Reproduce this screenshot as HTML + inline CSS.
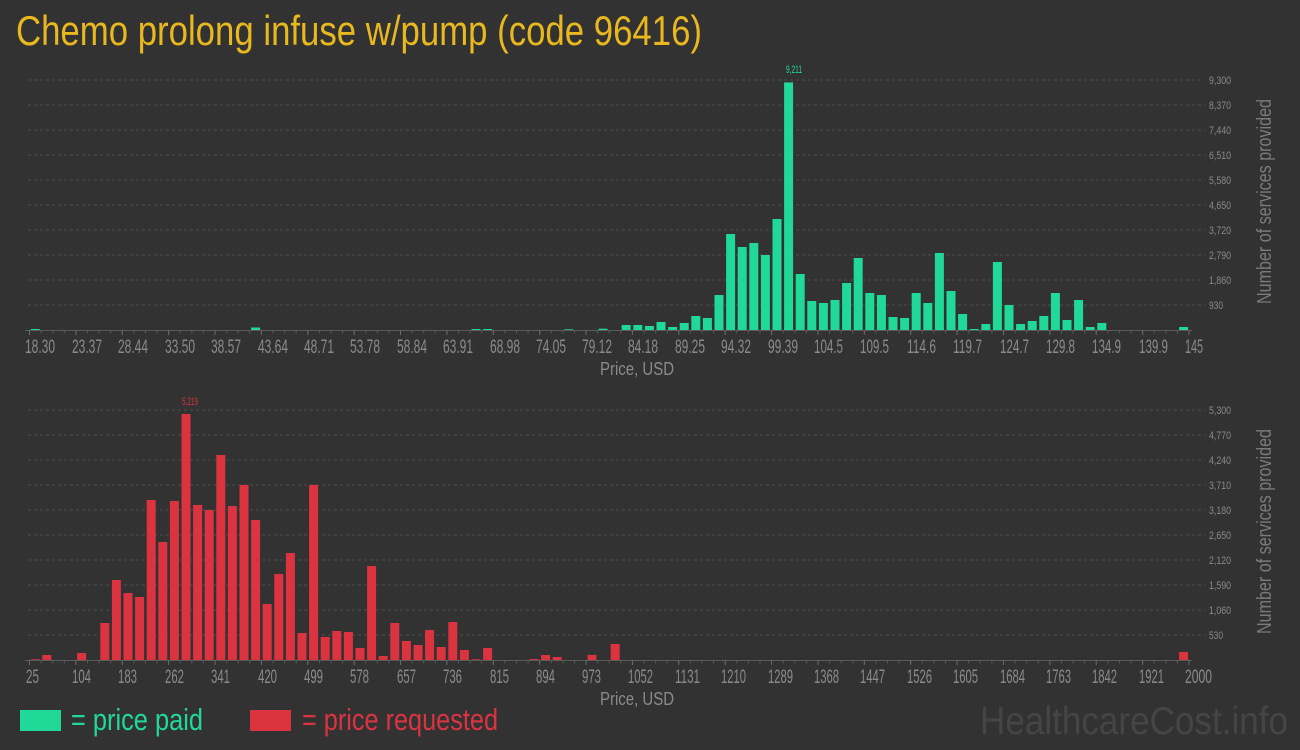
<!DOCTYPE html>
<html><head><meta charset="utf-8"><style>
html,body{margin:0;padding:0;background:#323232;}
svg{display:block;font-family:"Liberation Sans",sans-serif;}
.tl{fill:#8a8a8a;font-size:19px;}
.yl{fill:#8a8a8a;font-size:11px;}
.g{stroke:#4e4e4e;stroke-width:1;stroke-dasharray:3,3;}
.gr{fill:#20d898;}
.rd{fill:#dc3340;}
</style></head><body>
<svg width="1300" height="750" viewBox="0 0 1300 750">
<rect width="1300" height="750" fill="#323232"/>
<text x="16" y="45" font-size="42" fill="#e8b81e" textLength="686" lengthAdjust="spacingAndGlyphs">Chemo prolong infuse w/pump (code 96416)</text>

<!-- TOP CHART -->
<g class="g">
<line x1="28" y1="80" x2="1205" y2="80"/><line x1="28" y1="105" x2="1205" y2="105"/><line x1="28" y1="130" x2="1205" y2="130"/><line x1="28" y1="155" x2="1205" y2="155"/><line x1="28" y1="180" x2="1205" y2="180"/><line x1="28" y1="205" x2="1205" y2="205"/><line x1="28" y1="230" x2="1205" y2="230"/><line x1="28" y1="255" x2="1205" y2="255"/><line x1="28" y1="280" x2="1205" y2="280"/><line x1="28" y1="305" x2="1205" y2="305"/>
</g>
<g class="yl">
<text x="1209" y="84" textLength="22" lengthAdjust="spacingAndGlyphs">9,300</text>
<text x="1209" y="109" textLength="22" lengthAdjust="spacingAndGlyphs">8,370</text>
<text x="1209" y="134" textLength="22" lengthAdjust="spacingAndGlyphs">7,440</text>
<text x="1209" y="159" textLength="22" lengthAdjust="spacingAndGlyphs">6,510</text>
<text x="1209" y="184" textLength="22" lengthAdjust="spacingAndGlyphs">5,580</text>
<text x="1209" y="209" textLength="22" lengthAdjust="spacingAndGlyphs">4,650</text>
<text x="1209" y="234" textLength="22" lengthAdjust="spacingAndGlyphs">3,720</text>
<text x="1209" y="259" textLength="22" lengthAdjust="spacingAndGlyphs">2,790</text>
<text x="1209" y="284" textLength="22" lengthAdjust="spacingAndGlyphs">1,860</text>
<text x="1209" y="309" textLength="14" lengthAdjust="spacingAndGlyphs">930</text>
</g>
<text transform="translate(1271,304) rotate(-90)" font-size="20" fill="#7a7a7a" textLength="205" lengthAdjust="spacingAndGlyphs">Number of services provided</text>

<g class="gr">
<rect x="30.7" y="329" width="9" height="1"/>
<rect x="251.1" y="327.5" width="9" height="2.5"/>
<rect x="471.5" y="329" width="9" height="1"/>
<rect x="483.1" y="329" width="9" height="1"/>
<rect x="564.3" y="329.3" width="9" height="0.7"/>
<rect x="598.5" y="328.7" width="9" height="1.3"/>
<rect x="621.7" y="325" width="9" height="5"/>
<rect x="633.3" y="325" width="9" height="5"/>
<rect x="644.9" y="326" width="9" height="4"/>
<rect x="656.5" y="322" width="9" height="8"/>
<rect x="668.1" y="327" width="9" height="3"/>
<rect x="679.7" y="323" width="9" height="7"/>
<rect x="691.3" y="316" width="9" height="14"/>
<rect x="702.9" y="318" width="9" height="12"/>
<rect x="714.5" y="295" width="9" height="35"/>
<rect x="726.1" y="234" width="9" height="96"/>
<rect x="737.7" y="247" width="9" height="83"/>
<rect x="749.3" y="243" width="9" height="87"/>
<rect x="760.9" y="255" width="9" height="75"/>
<rect x="772.5" y="219" width="9" height="111"/>
<rect x="784.1" y="82.4" width="9" height="247.6"/>
<rect x="795.7" y="274" width="9" height="56"/>
<rect x="807.3" y="301" width="9" height="29"/>
<rect x="818.9" y="303" width="9" height="27"/>
<rect x="830.5" y="300" width="9" height="30"/>
<rect x="842.1" y="283" width="9" height="47"/>
<rect x="853.7" y="258" width="9" height="72"/>
<rect x="865.3" y="293" width="9" height="37"/>
<rect x="876.9" y="295" width="9" height="35"/>
<rect x="888.5" y="317" width="9" height="13"/>
<rect x="900.1" y="318" width="9" height="12"/>
<rect x="911.7" y="293" width="9" height="37"/>
<rect x="923.3" y="303" width="9" height="27"/>
<rect x="934.9" y="253" width="9" height="77"/>
<rect x="946.5" y="291" width="9" height="39"/>
<rect x="958.1" y="314" width="9" height="16"/>
<rect x="969.7" y="329" width="9" height="1"/>
<rect x="981.3" y="324" width="9" height="6"/>
<rect x="992.9" y="262" width="9" height="68"/>
<rect x="1004.5" y="305" width="9" height="25"/>
<rect x="1016.1" y="324" width="9" height="6"/>
<rect x="1027.7" y="321" width="9" height="9"/>
<rect x="1039.3" y="316" width="9" height="14"/>
<rect x="1050.9" y="293" width="9" height="37"/>
<rect x="1062.5" y="320" width="9" height="10"/>
<rect x="1074.1" y="300" width="9" height="30"/>
<rect x="1085.7" y="327" width="9" height="3"/>
<rect x="1097.3" y="323" width="9" height="7"/>
<rect x="1179.1" y="327" width="9" height="3"/>
</g>
<text x="786" y="73" font-size="11" fill="#20d898" textLength="16" lengthAdjust="spacingAndGlyphs">9,211</text>

<line x1="25" y1="330.5" x2="1192" y2="330.5" stroke="#5a5a5a" stroke-width="1"/>
<line x1="29" y1="332" x2="1190" y2="332" stroke="#5a5a5a" stroke-width="3" stroke-dasharray="1,10.595"/>
<g stroke="#6a6a6a" stroke-width="1">
<line x1="29.5" y1="330" x2="29.5" y2="335"/><line x1="75.9" y1="330" x2="75.9" y2="335"/><line x1="122.3" y1="330" x2="122.3" y2="335"/><line x1="168.6" y1="330" x2="168.6" y2="335"/><line x1="215" y1="330" x2="215" y2="335"/><line x1="261.4" y1="330" x2="261.4" y2="335"/><line x1="307.8" y1="330" x2="307.8" y2="335"/><line x1="354.2" y1="330" x2="354.2" y2="335"/><line x1="400.5" y1="330" x2="400.5" y2="335"/><line x1="446.9" y1="330" x2="446.9" y2="335"/><line x1="493.3" y1="330" x2="493.3" y2="335"/><line x1="539.7" y1="330" x2="539.7" y2="335"/><line x1="586.1" y1="330" x2="586.1" y2="335"/><line x1="632.4" y1="330" x2="632.4" y2="335"/><line x1="678.8" y1="330" x2="678.8" y2="335"/><line x1="725.2" y1="330" x2="725.2" y2="335"/><line x1="771.6" y1="330" x2="771.6" y2="335"/><line x1="818" y1="330" x2="818" y2="335"/><line x1="864.3" y1="330" x2="864.3" y2="335"/><line x1="910.7" y1="330" x2="910.7" y2="335"/><line x1="957.1" y1="330" x2="957.1" y2="335"/><line x1="1003.5" y1="330" x2="1003.5" y2="335"/><line x1="1049.9" y1="330" x2="1049.9" y2="335"/><line x1="1096.2" y1="330" x2="1096.2" y2="335"/><line x1="1142.6" y1="330" x2="1142.6" y2="335"/><line x1="1189" y1="330" x2="1189" y2="335"/>
</g>
<g class="tl">
<text x="25" y="353" textLength="30" lengthAdjust="spacingAndGlyphs">18.30</text>
<text x="72" y="353" textLength="30" lengthAdjust="spacingAndGlyphs">23.37</text>
<text x="118" y="353" textLength="30" lengthAdjust="spacingAndGlyphs">28.44</text>
<text x="165" y="353" textLength="30" lengthAdjust="spacingAndGlyphs">33.50</text>
<text x="211" y="353" textLength="30" lengthAdjust="spacingAndGlyphs">38.57</text>
<text x="258" y="353" textLength="30" lengthAdjust="spacingAndGlyphs">43.64</text>
<text x="304" y="353" textLength="30" lengthAdjust="spacingAndGlyphs">48.71</text>
<text x="350" y="353" textLength="30" lengthAdjust="spacingAndGlyphs">53.78</text>
<text x="397" y="353" textLength="30" lengthAdjust="spacingAndGlyphs">58.84</text>
<text x="443" y="353" textLength="30" lengthAdjust="spacingAndGlyphs">63.91</text>
<text x="490" y="353" textLength="30" lengthAdjust="spacingAndGlyphs">68.98</text>
<text x="536" y="353" textLength="30" lengthAdjust="spacingAndGlyphs">74.05</text>
<text x="582" y="353" textLength="30" lengthAdjust="spacingAndGlyphs">79.12</text>
<text x="628" y="353" textLength="30" lengthAdjust="spacingAndGlyphs">84.18</text>
<text x="675" y="353" textLength="30" lengthAdjust="spacingAndGlyphs">89.25</text>
<text x="721" y="353" textLength="30" lengthAdjust="spacingAndGlyphs">94.32</text>
<text x="768" y="353" textLength="30" lengthAdjust="spacingAndGlyphs">99.39</text>
<text x="814" y="353" textLength="29" lengthAdjust="spacingAndGlyphs">104.5</text>
<text x="860" y="353" textLength="29" lengthAdjust="spacingAndGlyphs">109.5</text>
<text x="907" y="353" textLength="29" lengthAdjust="spacingAndGlyphs">114.6</text>
<text x="953" y="353" textLength="29" lengthAdjust="spacingAndGlyphs">119.7</text>
<text x="1000" y="353" textLength="29" lengthAdjust="spacingAndGlyphs">124.7</text>
<text x="1046" y="353" textLength="29" lengthAdjust="spacingAndGlyphs">129.8</text>
<text x="1092" y="353" textLength="29" lengthAdjust="spacingAndGlyphs">134.9</text>
<text x="1139" y="353" textLength="29" lengthAdjust="spacingAndGlyphs">139.9</text>
<text x="1185" y="353" textLength="18" lengthAdjust="spacingAndGlyphs">145</text>
</g>
<text x="600" y="375" font-size="18" fill="#8a8a8a" textLength="74" lengthAdjust="spacingAndGlyphs">Price, USD</text>

<!-- BOTTOM CHART -->
<g class="g">
<line x1="28" y1="410" x2="1205" y2="410"/><line x1="28" y1="435" x2="1205" y2="435"/><line x1="28" y1="460" x2="1205" y2="460"/><line x1="28" y1="485" x2="1205" y2="485"/><line x1="28" y1="510" x2="1205" y2="510"/><line x1="28" y1="535" x2="1205" y2="535"/><line x1="28" y1="560" x2="1205" y2="560"/><line x1="28" y1="585" x2="1205" y2="585"/><line x1="28" y1="610" x2="1205" y2="610"/><line x1="28" y1="635" x2="1205" y2="635"/>
</g>
<g class="yl">
<text x="1209" y="414" textLength="22" lengthAdjust="spacingAndGlyphs">5,300</text>
<text x="1209" y="439" textLength="22" lengthAdjust="spacingAndGlyphs">4,770</text>
<text x="1209" y="464" textLength="22" lengthAdjust="spacingAndGlyphs">4,240</text>
<text x="1209" y="489" textLength="22" lengthAdjust="spacingAndGlyphs">3,710</text>
<text x="1209" y="514" textLength="22" lengthAdjust="spacingAndGlyphs">3,180</text>
<text x="1209" y="539" textLength="22" lengthAdjust="spacingAndGlyphs">2,650</text>
<text x="1209" y="564" textLength="22" lengthAdjust="spacingAndGlyphs">2,120</text>
<text x="1209" y="589" textLength="22" lengthAdjust="spacingAndGlyphs">1,590</text>
<text x="1209" y="614" textLength="22" lengthAdjust="spacingAndGlyphs">1,060</text>
<text x="1209" y="639" textLength="14" lengthAdjust="spacingAndGlyphs">530</text>
</g>
<text transform="translate(1271,634) rotate(-90)" font-size="20" fill="#7a7a7a" textLength="205" lengthAdjust="spacingAndGlyphs">Number of services provided</text>

<g class="rd">
<rect x="30.7" y="659.3" width="9" height="0.7"/>
<rect x="42.3" y="655" width="9" height="5"/>
<rect x="77.1" y="653" width="9" height="7"/>
<rect x="100.3" y="623" width="9" height="37"/>
<rect x="111.9" y="580" width="9" height="80"/>
<rect x="123.5" y="593" width="9" height="67"/>
<rect x="135.1" y="597" width="9" height="63"/>
<rect x="146.7" y="500" width="9" height="160"/>
<rect x="158.3" y="542" width="9" height="118"/>
<rect x="169.9" y="501" width="9" height="159"/>
<rect x="181.5" y="414" width="9" height="246"/>
<rect x="193.1" y="505" width="9" height="155"/>
<rect x="204.7" y="510" width="9" height="150"/>
<rect x="216.3" y="455" width="9" height="205"/>
<rect x="227.9" y="506" width="9" height="154"/>
<rect x="239.5" y="485" width="9" height="175"/>
<rect x="251.1" y="520" width="9" height="140"/>
<rect x="262.7" y="604" width="9" height="56"/>
<rect x="274.3" y="574" width="9" height="86"/>
<rect x="285.9" y="553" width="9" height="107"/>
<rect x="297.5" y="633" width="9" height="27"/>
<rect x="309.1" y="485" width="9" height="175"/>
<rect x="320.7" y="637" width="9" height="23"/>
<rect x="332.3" y="631" width="9" height="29"/>
<rect x="343.9" y="632" width="9" height="28"/>
<rect x="355.5" y="648" width="9" height="12"/>
<rect x="367.1" y="566" width="9" height="94"/>
<rect x="378.7" y="656" width="9" height="4"/>
<rect x="390.3" y="623" width="9" height="37"/>
<rect x="401.9" y="641" width="9" height="19"/>
<rect x="413.5" y="645" width="9" height="15"/>
<rect x="425.1" y="630" width="9" height="30"/>
<rect x="436.7" y="647" width="9" height="13"/>
<rect x="448.3" y="622" width="9" height="38"/>
<rect x="459.9" y="650" width="9" height="10"/>
<rect x="471.5" y="659.3" width="9" height="0.7"/>
<rect x="483.1" y="648" width="9" height="12"/>
<rect x="529.5" y="659" width="9" height="1"/>
<rect x="541.1" y="655" width="9" height="5"/>
<rect x="552.7" y="657" width="9" height="3"/>
<rect x="587.5" y="655" width="9" height="5"/>
<rect x="610.7" y="644" width="9" height="16"/>
<rect x="1179.1" y="652" width="9" height="8"/>
</g>
<text x="182" y="405" font-size="11" fill="#dc3340" textLength="16" lengthAdjust="spacingAndGlyphs">5,219</text>

<line x1="25" y1="660.5" x2="1192" y2="660.5" stroke="#5a5a5a" stroke-width="1"/>
<line x1="29" y1="662" x2="1190" y2="662" stroke="#5a5a5a" stroke-width="3" stroke-dasharray="1,10.595"/>
<g stroke="#6a6a6a" stroke-width="1">
<line x1="29.5" y1="660" x2="29.5" y2="665"/><line x1="75.9" y1="660" x2="75.9" y2="665"/><line x1="122.3" y1="660" x2="122.3" y2="665"/><line x1="168.6" y1="660" x2="168.6" y2="665"/><line x1="215" y1="660" x2="215" y2="665"/><line x1="261.4" y1="660" x2="261.4" y2="665"/><line x1="307.8" y1="660" x2="307.8" y2="665"/><line x1="354.2" y1="660" x2="354.2" y2="665"/><line x1="400.5" y1="660" x2="400.5" y2="665"/><line x1="446.9" y1="660" x2="446.9" y2="665"/><line x1="493.3" y1="660" x2="493.3" y2="665"/><line x1="539.7" y1="660" x2="539.7" y2="665"/><line x1="586.1" y1="660" x2="586.1" y2="665"/><line x1="632.4" y1="660" x2="632.4" y2="665"/><line x1="678.8" y1="660" x2="678.8" y2="665"/><line x1="725.2" y1="660" x2="725.2" y2="665"/><line x1="771.6" y1="660" x2="771.6" y2="665"/><line x1="818" y1="660" x2="818" y2="665"/><line x1="864.3" y1="660" x2="864.3" y2="665"/><line x1="910.7" y1="660" x2="910.7" y2="665"/><line x1="957.1" y1="660" x2="957.1" y2="665"/><line x1="1003.5" y1="660" x2="1003.5" y2="665"/><line x1="1049.9" y1="660" x2="1049.9" y2="665"/><line x1="1096.2" y1="660" x2="1096.2" y2="665"/><line x1="1142.6" y1="660" x2="1142.6" y2="665"/><line x1="1189" y1="660" x2="1189" y2="665"/>
</g>
<g class="tl">
<text x="26" y="683" textLength="13" lengthAdjust="spacingAndGlyphs">25</text>
<text x="72" y="683" textLength="19" lengthAdjust="spacingAndGlyphs">104</text>
<text x="118" y="683" textLength="19" lengthAdjust="spacingAndGlyphs">183</text>
<text x="165" y="683" textLength="19" lengthAdjust="spacingAndGlyphs">262</text>
<text x="211" y="683" textLength="19" lengthAdjust="spacingAndGlyphs">341</text>
<text x="258" y="683" textLength="19" lengthAdjust="spacingAndGlyphs">420</text>
<text x="304" y="683" textLength="19" lengthAdjust="spacingAndGlyphs">499</text>
<text x="350" y="683" textLength="19" lengthAdjust="spacingAndGlyphs">578</text>
<text x="397" y="683" textLength="19" lengthAdjust="spacingAndGlyphs">657</text>
<text x="443" y="683" textLength="19" lengthAdjust="spacingAndGlyphs">736</text>
<text x="490" y="683" textLength="19" lengthAdjust="spacingAndGlyphs">815</text>
<text x="536" y="683" textLength="19" lengthAdjust="spacingAndGlyphs">894</text>
<text x="582" y="683" textLength="19" lengthAdjust="spacingAndGlyphs">973</text>
<text x="628" y="683" textLength="25" lengthAdjust="spacingAndGlyphs">1052</text>
<text x="675" y="683" textLength="25" lengthAdjust="spacingAndGlyphs">1131</text>
<text x="721" y="683" textLength="25" lengthAdjust="spacingAndGlyphs">1210</text>
<text x="768" y="683" textLength="25" lengthAdjust="spacingAndGlyphs">1289</text>
<text x="814" y="683" textLength="25" lengthAdjust="spacingAndGlyphs">1368</text>
<text x="860" y="683" textLength="25" lengthAdjust="spacingAndGlyphs">1447</text>
<text x="907" y="683" textLength="25" lengthAdjust="spacingAndGlyphs">1526</text>
<text x="953" y="683" textLength="25" lengthAdjust="spacingAndGlyphs">1605</text>
<text x="1000" y="683" textLength="25" lengthAdjust="spacingAndGlyphs">1684</text>
<text x="1046" y="683" textLength="25" lengthAdjust="spacingAndGlyphs">1763</text>
<text x="1092" y="683" textLength="25" lengthAdjust="spacingAndGlyphs">1842</text>
<text x="1139" y="683" textLength="25" lengthAdjust="spacingAndGlyphs">1921</text>
<text x="1185" y="683" textLength="27" lengthAdjust="spacingAndGlyphs">2000</text>
</g>
<text x="600" y="705" font-size="18" fill="#8a8a8a" textLength="74" lengthAdjust="spacingAndGlyphs">Price, USD</text>

<!-- LEGEND -->
<rect x="20" y="710" width="41" height="21" fill="#20d898"/>
<text x="71" y="730" font-size="31" fill="#20d898" textLength="132" lengthAdjust="spacingAndGlyphs">= price paid</text>
<rect x="250" y="710" width="41" height="21" fill="#dc3340"/>
<text x="302" y="730" font-size="31" fill="#dc3340" textLength="196" lengthAdjust="spacingAndGlyphs">= price requested</text>
<text x="980" y="734" font-size="39" fill="#454545" textLength="308" lengthAdjust="spacingAndGlyphs">HealthcareCost.info</text>
</svg>
</body></html>
